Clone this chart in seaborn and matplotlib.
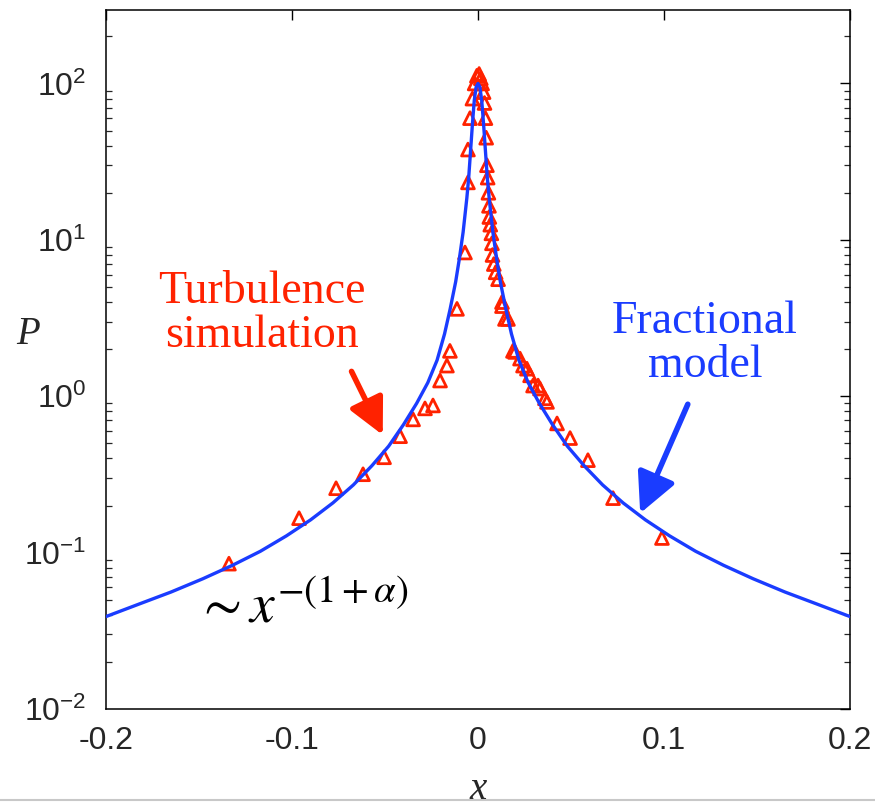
import numpy as np
import pandas as pd
import matplotlib
matplotlib.use("Agg")
import matplotlib.pyplot as plt
from matplotlib.lines import Line2D
import matplotlib.ticker as mticker
import seaborn as sns

# ---------------- data ----------------
# Fractional model curve (symmetric): |x| and P
model_abs_x = [0.000, 0.001, 0.002, 0.003, 0.004, 0.005, 0.006, 0.008, 0.010,
               0.012, 0.015, 0.018, 0.022, 0.027, 0.033, 0.040, 0.048, 0.057,
               0.067, 0.078, 0.090, 0.103, 0.117, 0.132, 0.148, 0.165, 0.182, 0.200]
model_p = [100, 95, 78, 55, 37, 25, 18.5, 11.2, 7.6,
           5.4, 3.6, 2.5, 1.7, 1.22, 0.9, 0.66, 0.48, 0.36,
           0.271, 0.208, 0.162, 0.128, 0.102, 0.083, 0.068, 0.056, 0.047, 0.039]

# Turbulence simulation points
sim_x = [-0.1339, -0.0962, -0.0763, -0.0618, -0.0505, -0.0419, -0.0349, -0.0285,
         -0.0242, -0.0204, -0.0167, -0.0151, -0.0113, -0.0070, -0.0054, -0.0054,
         -0.0043, -0.0030, -0.0018, -0.0006,
         0.0006, 0.0015, 0.0022, 0.0030, 0.0035, 0.0040, 0.0044, 0.0048, 0.0052,
         0.0056, 0.0059, 0.0061, 0.0066, 0.0072, 0.0075, 0.0078, 0.0085, 0.0095,
         0.0108, 0.0129, 0.0129, 0.0145, 0.0161, 0.0188, 0.0199, 0.0226, 0.0242,
         0.0263, 0.0280, 0.0296, 0.0323, 0.0333, 0.0360, 0.0371, 0.0425, 0.0495,
         0.0591, 0.0726, 0.0989]
sim_p = [0.085, 0.166, 0.258, 0.317, 0.407, 0.555, 0.711, 0.836,
         0.873, 1.26, 1.57, 1.95, 3.62, 8.3, 23.3, 37.8,
         60, 80, 100, 112,
         115, 108, 100, 88, 75, 60, 45, 30, 25,
         20, 16.5, 14, 12.5, 11, 9.5, 8, 7, 6.2,
         5.6, 4.0, 3.77, 3.12, 3.12, 1.95, 1.92, 1.74, 1.57,
         1.5, 1.36, 1.17, 1.17, 1.12, 0.97, 0.92, 0.67, 0.54,
         0.39, 0.223, 0.124]

xtick_vals = [-0.2, -0.1, 0, 0.1, 0.2]
xtick_labels = ["-0.2", "-0.1", "0", "0.1", "0.2"]
ytick_vals = [1e-2, 1e-1, 1e0, 1e1, 1e2]

# ---------------- style ----------------
sns.set_style("white")
plt.rcParams["font.family"] = ["Liberation Sans", "DejaVu Sans"]
plt.rcParams["mathtext.fontset"] = "custom"
plt.rcParams["mathtext.rm"] = "Liberation Sans"
plt.rcParams["mathtext.it"] = "Liberation Sans:italic"
plt.rcParams["mathtext.bf"] = "Liberation Sans:bold"
plt.rcParams["axes.unicode_minus"] = False

RED = "#ff2200"
BLUE = "#1a3cff"

fig = plt.figure(figsize=(8.75, 8.09), dpi=100)
ax = fig.add_axes([106 / 875, 1 - 709 / 809, 744 / 875, 699 / 809])

model_df = pd.DataFrame({
    "x": [-v for v in reversed(model_abs_x[1:])] + model_abs_x,
    "P": list(reversed(model_p[1:])) + model_p,
})
sim_df = pd.DataFrame({"x": sim_x, "P": sim_p})

sns.scatterplot(data=sim_df, x="x", y="P", ax=ax, marker="^", s=85,
                facecolor="none", edgecolor=RED, linewidth=2.0, zorder=2)
sns.lineplot(data=model_df, x="x", y="P", ax=ax, color=BLUE, lw=2.4,
             zorder=3, sort=True, estimator=None)

ax.set_yscale("log")
ax.set_xlim(-0.2, 0.2)
ax.set_ylim(1e-2, 295)
ax.set_xticks(xtick_vals)
ax.set_xticklabels(xtick_labels)
ax.set_yticks(ytick_vals)
ax.yaxis.set_major_formatter(mticker.LogFormatterSciNotation())
ax.yaxis.set_minor_locator(mticker.LogLocator(base=10, subs=np.arange(2, 10), numticks=20))
ax.yaxis.set_minor_formatter(mticker.NullFormatter())

for side in ["left", "right", "top", "bottom"]:
    ax.spines[side].set_visible(True)
    ax.spines[side].set_color("black")
    ax.spines[side].set_linewidth(1.1)

ax.tick_params(axis="both", which="major", direction="in", length=7, width=1.0,
               top=True, right=True, labelsize=23, color="black")
ax.tick_params(axis="y", which="minor", direction="in", length=4, width=0.9,
               left=True, right=True)
ax.tick_params(axis="x", which="major", pad=12)
ax.tick_params(axis="y", which="major", pad=14)

ax.set_xlabel("x", fontsize=28, family="Liberation Serif", style="italic")
ax.set_ylabel("P", fontsize=28, family="Liberation Serif", style="italic", rotation=0)
ax.xaxis.set_label_coords(0.5, -0.088)
ax.yaxis.set_label_coords(-0.105, 0.51)

# annotations
ax.text(0.21, 0.566, "Turbulence\nsimulation", transform=ax.transAxes, ha="center",
        va="center", color=RED, fontsize=33, family="Liberation Serif", linespacing=1.05)
ax.text(0.805, 0.522, "Fractional\nmodel", transform=ax.transAxes, ha="center",
        va="center", color=BLUE, fontsize=33, family="Liberation Serif", linespacing=1.05)
ax.text(0.12, 0.124, r"$\sim x^{-(1+\alpha)}$", transform=ax.transAxes, ha="left",
        va="baseline", color="black", fontsize=40, math_fontfamily="stix")

ax.annotate("", xy=(0.372, 0.392), xytext=(0.330, 0.483), xycoords="axes fraction",
            textcoords="axes fraction",
            arrowprops=dict(arrowstyle="-|>,head_length=1.0,head_width=0.5", color=RED,
                            lw=4.0, mutation_scale=22, shrinkA=0, shrinkB=0))
ax.annotate("", xy=(0.718, 0.280), xytext=(0.782, 0.436), xycoords="axes fraction",
            textcoords="axes fraction",
            arrowprops=dict(arrowstyle="-|>,head_length=1.1,head_width=0.55", color=BLUE,
                            lw=4.0, mutation_scale=22, shrinkA=0, shrinkB=0))

# thin grey rule near the bottom of the image
fig.add_artist(Line2D([0, 1], [1 - 800 / 809, 1 - 800 / 809], transform=fig.transFigure,
                      color="#c8c8c8", lw=1.5))

fig.savefig("out.png", dpi=100)
